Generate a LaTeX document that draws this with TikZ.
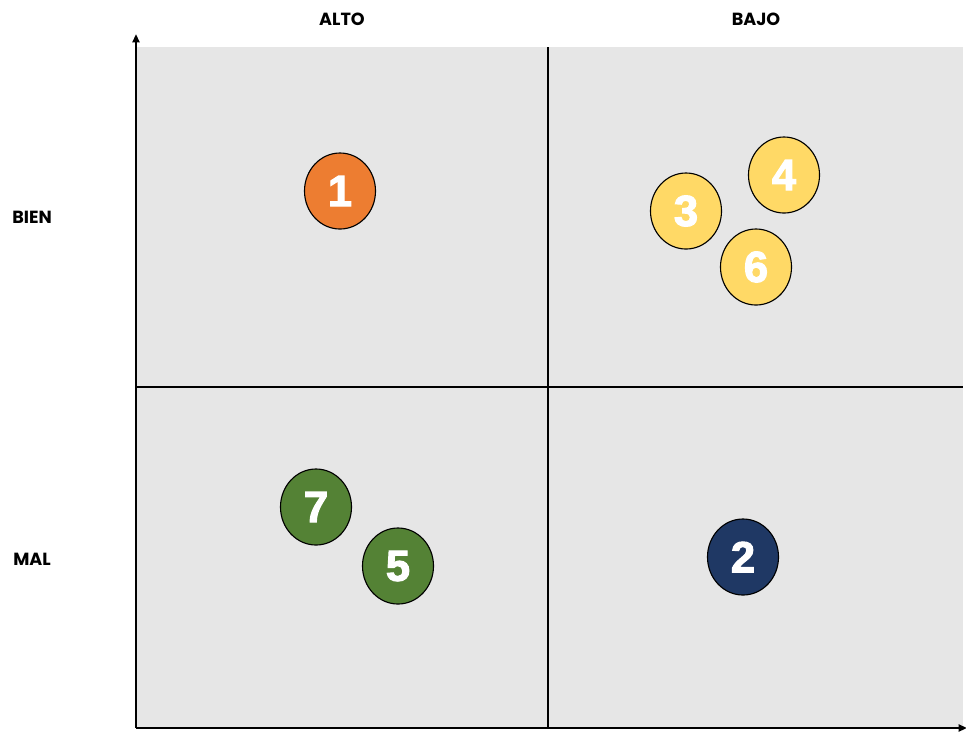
\documentclass[tikz,border=0pt]{standalone}
\usepackage{fontspec}
\setmainfont{Liberation Sans}
\newfontfamily\labelfont{Poppins}
\newfontfamily\numfont[FakeBold=2.5]{Liberation Sans Bold}
\usetikzlibrary{arrows.meta, positioning, shapes.geometric}
\definecolor{quadgray}{RGB}{230,230,230}
\definecolor{dotorange}{RGB}{237,125,49}
\definecolor{dotyellow}{RGB}{255,217,102}
\definecolor{dotgreen}{RGB}{84,130,53}
\definecolor{dotnavy}{RGB}{31,56,100}
\begin{document}
\begin{tikzpicture}[
    x=0.025cm, y=-0.025cm,
    dot/.style={ellipse, draw, line width=0.8pt, minimum width=1.775cm, minimum height=1.9cm, inner sep=0pt, text=white, font=\numfont\fontsize{31}{31}\selectfont},
    axislabel/.style={font=\labelfont\bfseries\fontsize{12.5}{12.5}\selectfont},
    axis/.style={-{Triangle[length=6pt, width=5pt]}, line width=1.9pt},
    divider/.style={line width=1.8pt}
]
\useasboundingbox (0,0) rectangle (966,733);
\fill[quadgray] (136,47) rectangle (963,728);

\coordinate (origin) at (136,728);
\coordinate (ytop) at (136,34);
\coordinate (xend) at (967,728);
\coordinate (vtop) at (548,47);
\coordinate (vbot) at (548,728);
\coordinate (hleft) at (136,387);
\coordinate (hright) at (963,387);

\draw[divider] (vtop) -- (vbot);
\draw[divider] (hleft) -- (hright);
\draw[axis] (origin) -- (ytop);
\draw[axis] (origin) -- (xend);

\node[axislabel] (alto) at (342,19) {ALTO};
\node[axislabel] (bajo) at (756,19) {BAJO};
\node[axislabel] (bien) at (32,217) {BIEN};
\node[axislabel] (mal) at (32,559) {MAL};

\node[dot, fill=dotorange] (d1) at (340,191) {1};
\node[dot, fill=dotnavy] (d2) at (743,557) {2};
\node[dot, fill=dotyellow] (d3) at (686,211) {3};
\node[dot, fill=dotyellow] (d4) at (784,175) {4};
\node[dot, fill=dotgreen] (d5) at (398,566) {5};
\node[dot, fill=dotyellow] (d6) at (756,267) {6};
\node[dot, fill=dotgreen] (d7) at (316,507) {7};
\end{tikzpicture}
\end{document}
